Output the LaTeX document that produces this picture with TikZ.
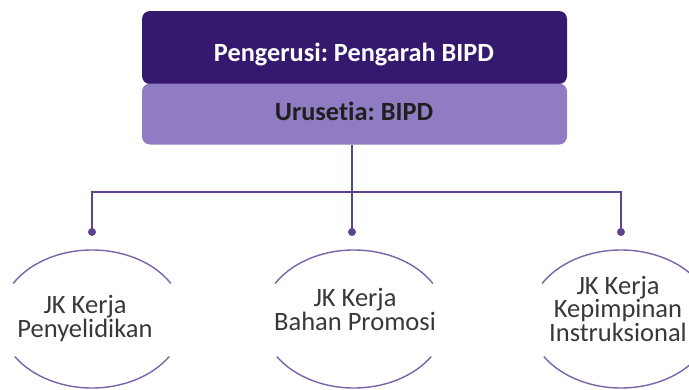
\documentclass[tikz,border=0pt]{standalone}
\usepackage{fontspec}
\setmainfont{Carlito}[Ligatures=NoCommon]
\usetikzlibrary{calc}
\definecolor{darkpurple}{HTML}{35196F}
\definecolor{lightpurple}{HTML}{8F7CC3}
\definecolor{linepurple}{HTML}{5E4390}
\definecolor{arcpurple}{HTML}{7A63A8}
\definecolor{txtgray}{HTML}{383838}
\begin{document}
\frenchspacing
\begin{tikzpicture}[x=1pt,y=-1pt,
  conn/.style={draw=linepurple,line width=1.6pt},
  dotend/.style={fill=linepurple,circle,inner sep=0pt,minimum size=8pt},
  arcline/.style={draw=arcpurple,line width=1.4pt},
  lbl/.style={align=center,text=txtgray,inner sep=0pt,anchor=base,font=\fontsize{26.5}{21}\selectfont},
  boxtxt/.style={inner sep=0pt,anchor=base,font=\bfseries\fontsize{26.3}{28}\selectfont},
  ]
\useasboundingbox (0,0) rectangle (689,389);
\clip (0,0) rectangle (689,389);
% top boxes
\node[fill=darkpurple,rounded corners=8pt,minimum width=425pt,minimum height=73pt,inner sep=0pt] (chair) at (354.5,47.5) {};
\node[boxtxt,text=white] (chairtxt) at (354,61) {Pengerusi: Pengarah BIPD};
\node[fill=lightpurple,rounded corners=8pt,minimum width=425pt,minimum height=61pt,inner sep=0pt] (sec) at (354.5,114) {};
\node[boxtxt,text=black!88] (sectxt) at (354,120) {Urusetia: BIPD};
% connectors
\coordinate (junction) at (352,192);
\coordinate (lcorner) at (92,192);
\coordinate (rcorner) at (621,192);
\node[dotend] (d1) at (92,232) {};
\node[dotend] (d2) at (352,232) {};
\node[dotend] (d3) at (621,232) {};
\draw[conn] (sec.south -| junction) -- (junction);
\draw[conn] (d1.center) -- (lcorner) -- (rcorner) -- (d3.center);
\draw[conn] (junction) -- (d2.center);
% ellipse arcs
\foreach \cx/\nm in {92/e1,354/e2,621/e3}{
  \coordinate (\nm) at (\cx,319);
  \draw[arcline] ($(\nm)+(31:92pt and 69pt)$) arc[start angle=31,end angle=149,x radius=92pt,y radius=69pt];
  \draw[arcline] ($(\nm)+(213:92pt and 69pt)$) arc[start angle=213,end angle=327,x radius=92pt,y radius=69pt];
}
\node[lbl] (t1) at (85,337) {JK Kerja\\Penyelidikan};
\node[lbl] (t2) at (355,330) {JK Kerja\\Bahan Promosi};
\node[lbl] (t3) at (618,341.5) {JK Kerja\\Kepimpinan\\Instruksional};
\end{tikzpicture}
\end{document}
